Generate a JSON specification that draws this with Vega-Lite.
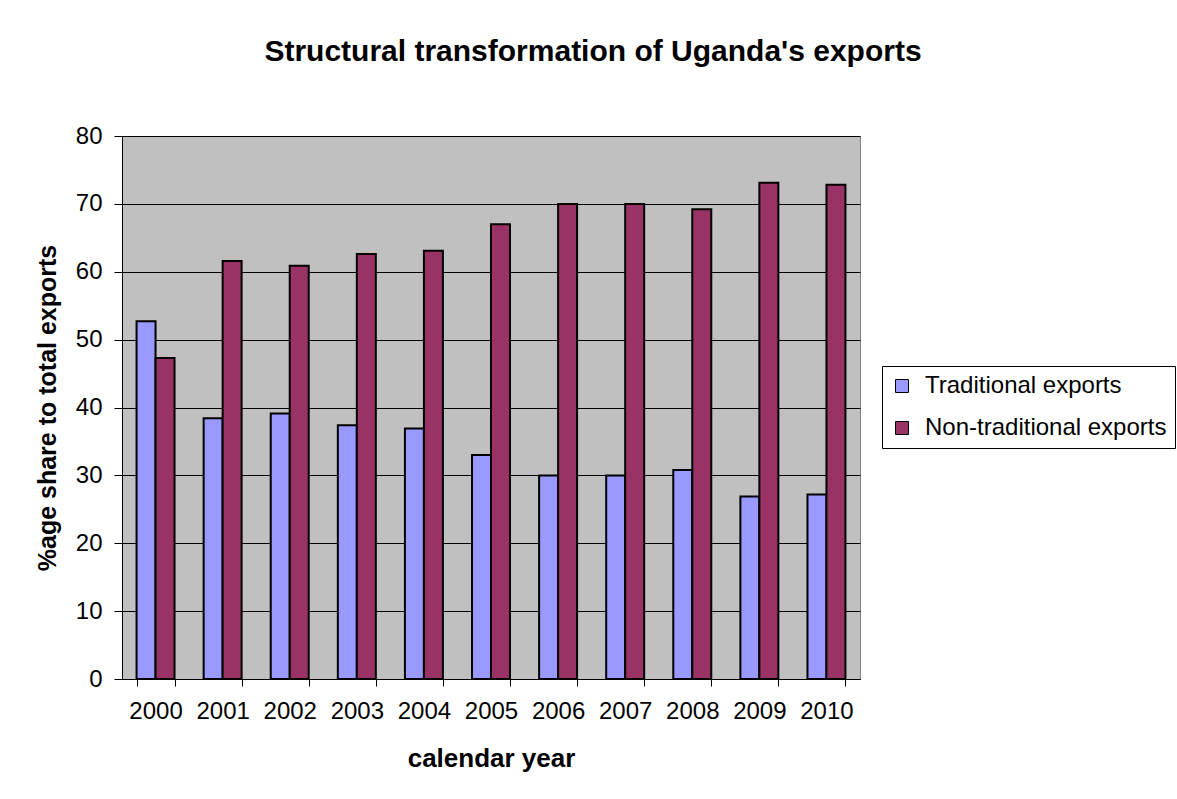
{
  "$schema": "https://vega.github.io/schema/vega-lite/v6.json",
  "autosize": {"type": "none"},
  "padding": {"left": 122, "top": 136, "right": 317, "bottom": 120},
  "width": 738,
  "height": 543,
  "background": "white",
  "title": {
    "text": "Structural transformation of Uganda's exports",
    "anchor": "middle",
    "frame": "group",
    "dx": 102,
    "offset": 57,
    "font": "Liberation Sans",
    "fontSize": 30,
    "fontWeight": "bold",
    "color": "black"
  },
  "data": {
    "values": [
      {"year": "2000", "type": "Traditional exports", "share": 52.7},
      {"year": "2000", "type": "Non-traditional exports", "share": 47.3},
      {"year": "2001", "type": "Traditional exports", "share": 38.4},
      {"year": "2001", "type": "Non-traditional exports", "share": 61.6},
      {"year": "2002", "type": "Traditional exports", "share": 39.1},
      {"year": "2002", "type": "Non-traditional exports", "share": 60.9},
      {"year": "2003", "type": "Traditional exports", "share": 37.4},
      {"year": "2003", "type": "Non-traditional exports", "share": 62.6},
      {"year": "2004", "type": "Traditional exports", "share": 36.9},
      {"year": "2004", "type": "Non-traditional exports", "share": 63.1},
      {"year": "2005", "type": "Traditional exports", "share": 33.0},
      {"year": "2005", "type": "Non-traditional exports", "share": 67.0},
      {"year": "2006", "type": "Traditional exports", "share": 30.0},
      {"year": "2006", "type": "Non-traditional exports", "share": 70.0},
      {"year": "2007", "type": "Traditional exports", "share": 30.0},
      {"year": "2007", "type": "Non-traditional exports", "share": 70.0},
      {"year": "2008", "type": "Traditional exports", "share": 30.8},
      {"year": "2008", "type": "Non-traditional exports", "share": 69.2},
      {"year": "2009", "type": "Traditional exports", "share": 26.9},
      {"year": "2009", "type": "Non-traditional exports", "share": 73.1},
      {"year": "2010", "type": "Traditional exports", "share": 27.2},
      {"year": "2010", "type": "Non-traditional exports", "share": 72.8}
    ]
  },
  "mark": {"type": "bar", "stroke": "black", "strokeWidth": 2},
  "encoding": {
    "x": {
      "field": "year",
      "type": "nominal",
      "scale": {"paddingInner": 0.434, "paddingOuter": 0.217},
      "axis": {
        "title": "calendar year",
        "labelAngle": 0,
        "tickBand": "extent",
        "tickSize": 7,
        "tickColor": "black",
        "domainColor": "black",
        "labelPadding": 13,
        "labelFontSize": 24,
        "labelFont": "Liberation Sans",
        "labelColor": "black",
        "titleFont": "Liberation Sans",
        "titleFontSize": 26,
        "titleFontWeight": "bold",
        "titleColor": "black",
        "titlePadding": 22,
        "grid": false
      }
    },
    "xOffset": {
      "field": "type",
      "type": "nominal",
      "sort": ["Traditional exports", "Non-traditional exports"],
      "scale": {"paddingInner": 0, "paddingOuter": 0}
    },
    "y": {
      "field": "share",
      "type": "quantitative",
      "scale": {"domain": [0, 80], "nice": false},
      "axis": {
        "title": "%age share to total exports",
        "values": [0, 10, 20, 30, 40, 50, 60, 70, 80],
        "tickSize": 8,
        "tickColor": "black",
        "domainColor": "black",
        "labelPadding": 12,
        "labelFontSize": 24,
        "labelFont": "Liberation Sans",
        "labelColor": "black",
        "titleFont": "Liberation Sans",
        "titleFontSize": 25,
        "titleFontWeight": "bold",
        "titleColor": "black",
        "titlePadding": 15,
        "grid": true,
        "gridColor": "black",
        "gridOpacity": 1,
        "gridWidth": 1
      }
    },
    "color": {
      "field": "type",
      "type": "nominal",
      "sort": ["Traditional exports", "Non-traditional exports"],
      "scale": {"domain": ["Traditional exports", "Non-traditional exports"], "range": ["#9999FF", "#993366"]},
      "legend": {
        "title": null,
        "orient": "none",
        "legendX": 760,
        "legendY": 230,
        "symbolType": "square",
        "symbolSize": 169,
        "symbolStrokeColor": "black",
        "symbolStrokeWidth": 1,
        "labelFont": "Liberation Sans",
        "labelFontSize": 24,
        "labelLimit": 400,
        "labelColor": "black",
        "labelOffset": 11,
        "rowPadding": 18,
        "padding": 8,
        "strokeColor": "black"
      }
    }
  },
  "config": {
    "view": {"fill": "#C0C0C0", "stroke": "#808080", "strokeWidth": 1},
    "axis": {"domainWidth": 1, "tickWidth": 1}
  }
}
